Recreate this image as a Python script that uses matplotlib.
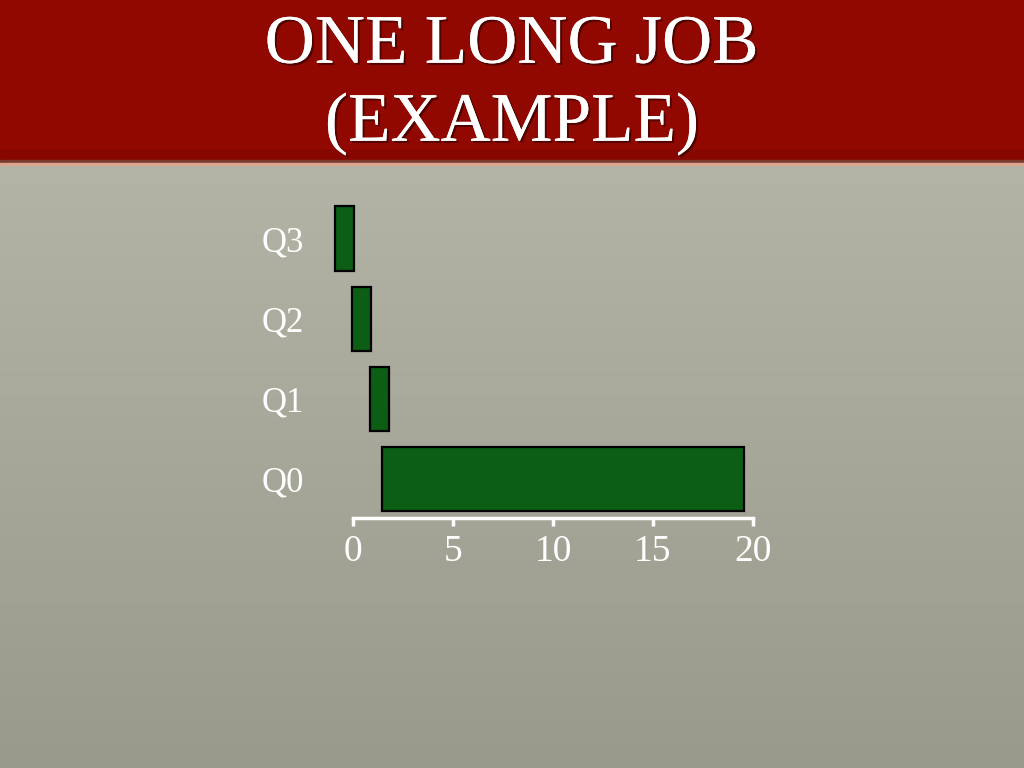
import numpy as np
import matplotlib
matplotlib.use("Agg")
import matplotlib.pyplot as plt
import matplotlib.patheffects as pe
from matplotlib.patches import Rectangle

# ---- data ----
queues = ["Q0", "Q1", "Q2", "Q3"]
starts = [1.45, 0.85, -0.05, -0.9]
durations = [18.1, 0.95, 0.95, 0.95]
xticks = [0, 5, 10, 15, 20]
title_lines = ["ONE LONG JOB", "(EXAMPLE)"]

W, H = 1024, 768
fig = plt.figure(figsize=(W / 100, H / 100), dpi=100)

# background gradient
bg = fig.add_axes([0, 0, 1, 1])
bg.set_axis_off()
yy = np.linspace(0, 1, 256)[:, None]
top = np.array([186, 187, 172]) / 255
bot = np.array([154, 154, 140]) / 255
grad = top[None, None, :] * (1 - yy[..., None]) + bot[None, None, :] * yy[..., None]
grad = np.repeat(grad, 4, axis=1)
bg.imshow(grad, extent=[0, W, H, 0], aspect="auto", zorder=0)
bg.set_xlim(0, W)
bg.set_ylim(H, 0)
# header band
bg.add_patch(Rectangle((0, 0), W, 160, color="#900800", zorder=1))
bg.add_patch(Rectangle((0, 150), W, 10, color="#850700", zorder=1))
bg.add_patch(Rectangle((0, 160), W, 3, color="#7a3a2c", zorder=2))
bg.add_patch(Rectangle((0, 163), W, 1.5, color="#d9a690", zorder=2))

shadow = [pe.withSimplePatchShadow(offset=(1.5, -1.5), shadow_rgbFace="black", alpha=0.45), pe.Normal()]
bg.text(512, 46, title_lines[0], ha="center", va="center", color="white",
        fontsize=50, family="Liberation Serif", zorder=3, path_effects=shadow)
bg.text(512, 124, title_lines[1], ha="center", va="center", color="white",
        fontsize=50, family="Liberation Serif", zorder=3, path_effects=shadow)

# chart axes
ax = fig.add_axes([0.3255, 0.3255, 0.4193, 0.4161])
ax.patch.set_alpha(0)
ypos = np.arange(len(queues))
ax.barh(ypos, durations, left=starts, height=0.8, color="#0b5e14",
        edgecolor="black", linewidth=1.6)
ax.set_xlim(-1, 20.5)
ax.set_ylim(-0.486, 3.5)
ax.set_xticks(xticks)
ax.set_xticklabels([str(t) for t in xticks])
ax.set_yticks(ypos)
ax.set_yticklabels(queues)
for s in ["top", "right", "left"]:
    ax.spines[s].set_visible(False)
ax.spines["bottom"].set_color("white")
ax.spines["bottom"].set_linewidth(2.5)
ax.spines["bottom"].set_bounds(0, 20)
ax.tick_params(axis="x", colors="white", length=6, width=2.5, pad=6, labelsize=27)
ax.tick_params(axis="y", length=0, pad=21, labelsize=25, labelcolor="white")
for lab in ax.get_xticklabels() + ax.get_yticklabels():
    lab.set_family("Liberation Serif")

fig.savefig("out.png", dpi=100)
